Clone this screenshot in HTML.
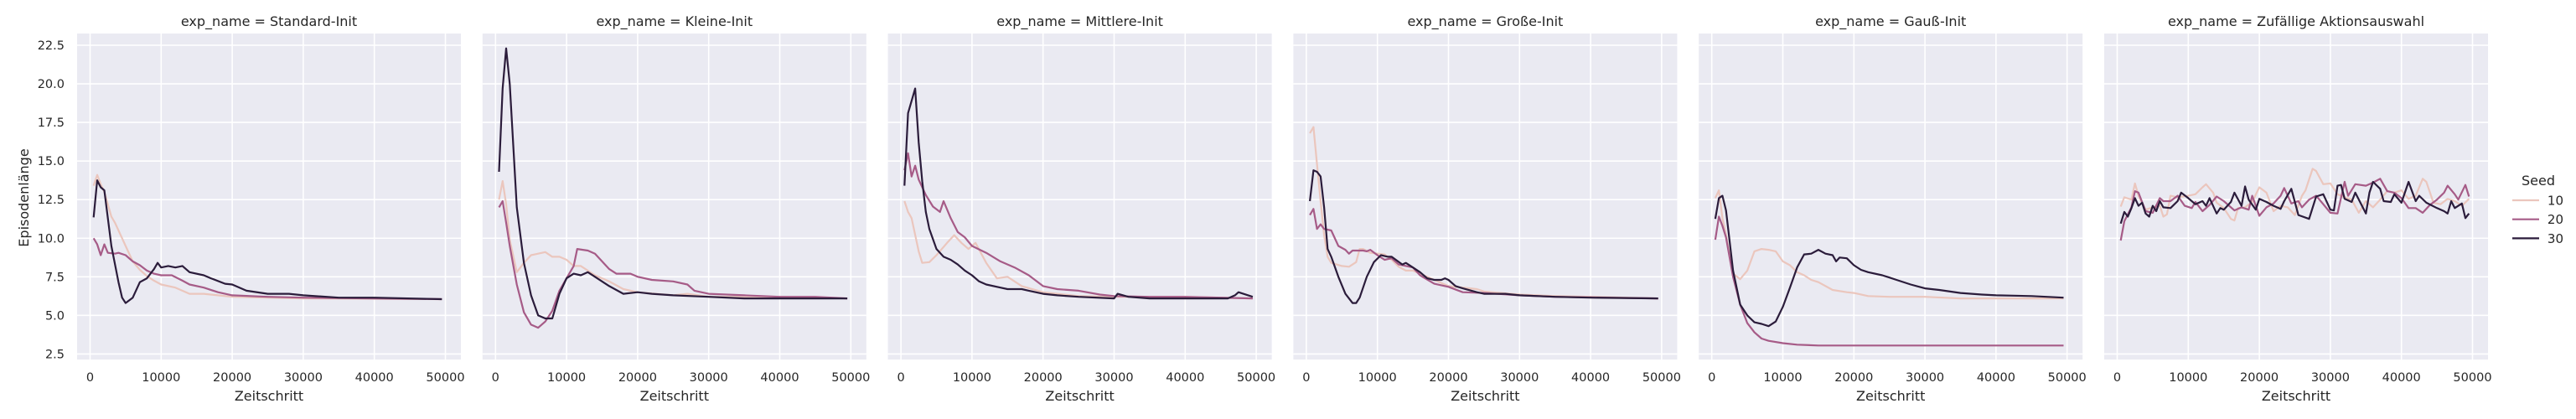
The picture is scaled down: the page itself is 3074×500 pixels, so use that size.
<!DOCTYPE html>
<html><head><meta charset="utf-8"><style>
html,body{margin:0;padding:0;background:#fff;}
svg{display:block;font-family:"DejaVu Sans","Liberation Sans",sans-serif;}
</style></head><body>
<svg id="chart" width="3074" height="500" viewBox="0 0 3074 500"></svg>
<script>
const panelTitles = ["exp_name = Standard-Init","exp_name = Kleine-Init","exp_name = Mittlere-Init","exp_name = Große-Init","exp_name = Gauß-Init","exp_name = Zufällige Aktionsauswahl"];
const seeds = ["10","20","30"];
const xTicks = [0,10000,20000,30000,40000,50000];
const yTicks = [2.5,5.0,7.5,10.0,12.5,15.0,17.5,20.0,22.5];
// Each series: [x values], [y values]
const p1s10x=[500,1000,1500,2000,3000,3500,4500,5000,6000,7000,8000,9000,10000,12000,14000,16000,18000,20000,25000,30000,49500];
const p1s10y=[13.4,14.1,13.5,13,11.4,11,10,9.5,8.5,7.95,7.55,7.25,7,6.8,6.4,6.4,6.3,6.2,6.15,6.1,6.05];
const p1s20x=[500,1000,1500,2000,2500,3500,4000,5000,6000,7000,8000,9000,10000,11500,13000,14000,16000,18000,20000,25000,30000,40000,49500];
const p1s20y=[10,9.6,8.9,9.6,9.05,9,9.05,8.9,8.5,8.25,7.9,7.7,7.6,7.6,7.25,7,6.8,6.5,6.3,6.2,6.15,6.1,6.05];
const p1s30x=[500,1000,1500,2000,3000,4000,4500,5000,6000,7000,8000,9000,9500,10000,11000,12000,13000,14000,16000,17000,19000,20000,22000,25000,28000,30000,35000,40000,49500];
const p1s30y=[11.35,13.75,13.3,13.1,9.5,7.15,6.15,5.8,6.15,7.15,7.4,8,8.4,8.1,8.2,8.1,8.2,7.8,7.6,7.4,7.05,7,6.6,6.4,6.4,6.3,6.15,6.15,6.05];
const p2s10x=[500,1000,1500,2000,3000,4000,5000,6000,7000,8000,9000,10000,11000,12000,14000,16000,18000,20000,25000,27000,30000,40000,49500];
const p2s10y=[12.5,13.7,12.2,9.9,7.8,8.4,8.9,9,9.1,8.8,8.8,8.6,8.2,8.2,7.6,7.2,6.7,6.5,6.3,6.4,6.2,6.2,6.1];
const p2s20x=[500,1000,1500,2000,3000,4000,5000,6000,7000,8000,9000,10000,11000,11500,13000,14000,16000,17000,19000,20000,22000,25000,27000,28000,30000,35000,40000,45000,49500];
const p2s20y=[12,12.4,11,9.5,7,5.2,4.4,4.2,4.6,5.3,6.6,7.4,8.2,9.3,9.2,9,8,7.7,7.7,7.5,7.3,7.2,7,6.6,6.4,6.3,6.2,6.2,6.1];
const p2s30x=[500,1000,1500,2000,2500,3000,4000,5000,6000,7000,8000,9000,10000,11000,12000,13000,14000,16000,18000,20000,22000,25000,30000,35000,40000,45000,49500];
const p2s30y=[14.3,19.7,22.3,20,16,12,8.4,6.3,5,4.8,4.8,6.4,7.4,7.7,7.6,7.8,7.5,6.9,6.4,6.5,6.4,6.3,6.2,6.1,6.1,6.1,6.1];
const p3s10x=[500,1000,1500,2500,3000,4000,5000,6500,7500,8500,9500,10500,12000,13500,15000,17000,20000,25000,30000,40000,49500];
const p3s10y=[12.4,11.7,11.3,9.15,8.4,8.45,8.9,9.7,10.2,9.7,9.3,9.7,8.4,7.4,7.5,6.9,6.5,6.25,6.2,6.2,6.1];
const p3s20x=[500,1000,1500,2000,2500,3500,4500,5500,6000,7000,8000,9000,10000,12000,14000,16000,18000,20000,22000,25000,28000,30000,35000,40000,49500];
const p3s20y=[14.4,15.5,14,14.7,13.8,12.8,12.05,11.7,12.4,11.3,10.4,10.05,9.5,9.05,8.5,8.1,7.6,6.9,6.7,6.6,6.35,6.25,6.2,6.2,6.1];
const p3s30x=[500,1000,2000,2500,3000,3500,4000,5000,6000,7000,8000,9000,10000,11000,12000,14000,15000,17000,18000,20000,22000,25000,30000,30500,32000,35000,40000,46000,47000,47500,49500];
const p3s30y=[13.4,18.1,19.7,16.2,13.7,11.7,10.6,9.3,8.8,8.6,8.3,7.9,7.6,7.2,7,6.8,6.7,6.7,6.6,6.4,6.3,6.2,6.1,6.4,6.2,6.1,6.1,6.1,6.3,6.5,6.2];
const p4s10x=[500,1000,1500,2000,2500,3000,3500,5000,6000,7000,7500,8000,9000,11000,12000,13000,14000,15000,16000,18000,20000,24000,25000,30000,35000,40000,49500];
const p4s10y=[16.8,17.2,14.8,12.4,10.2,8.8,8.4,8.2,8.15,8.45,9.3,9.3,9.05,8.95,8.6,8.15,7.9,7.9,7.7,7.3,6.9,6.7,6.55,6.35,6.25,6.2,6.1];
const p4s20x=[500,1000,1500,2000,2500,3500,4500,5500,6000,6500,8000,8500,9000,10000,11000,12000,13000,15000,16000,18000,20000,22000,25000,30000,35000,49500];
const p4s20y=[11.5,11.9,10.6,10.9,10.6,10.5,9.5,9.25,9,9.2,9.2,9.15,9.25,8.9,8.6,8.7,8.3,8.1,7.6,7.05,6.85,6.5,6.45,6.3,6.2,6.1];
const p4s30x=[500,1000,1500,2000,2500,3000,3500,4500,5500,6500,7000,7500,8500,9500,10500,11500,12000,13500,14000,15000,16000,17000,18000,19000,19500,20000,21000,22000,24000,25000,28000,30000,35000,40000,49500];
const p4s30y=[12.4,14.4,14.3,14,12,9.3,8.8,7.5,6.4,5.8,5.8,6.15,7.5,8.45,8.9,8.8,8.8,8.3,8.4,8.1,7.8,7.4,7.3,7.3,7.4,7.3,6.9,6.75,6.5,6.4,6.4,6.3,6.2,6.15,6.1];
const p5s10x=[500,1000,1500,2000,3000,4000,5000,6000,7000,8000,9000,10000,11000,12000,13000,14000,15000,17000,19000,20000,22000,25000,28000,30000,35000,49500];
const p5s10y=[12.6,13.1,11.3,10.2,7.7,7.35,7.9,9.15,9.3,9.25,9.15,8.5,8.25,7.8,7.6,7.3,7.15,6.65,6.5,6.45,6.25,6.2,6.2,6.2,6.1,6.1];
const p5s20x=[500,1000,1500,2000,3000,4000,5000,6000,7000,8000,10000,12000,15000,49500];
const p5s20y=[9.9,11.4,10.8,10.05,7.5,5.7,4.5,3.9,3.5,3.35,3.2,3.1,3.05,3.05];
const p5s30x=[500,1000,1500,2000,3000,4000,5000,6000,7000,8000,9000,10000,11000,12000,13000,14000,15000,16000,17000,17500,18000,19000,20000,21000,22000,24000,25000,26000,28000,30000,32000,35000,38000,40000,45000,49500];
const p5s30y=[11.25,12.6,12.75,11.8,7.9,5.7,5,4.55,4.45,4.3,4.6,5.55,6.8,8.1,8.95,9,9.25,9,8.9,8.5,8.75,8.7,8.25,7.95,7.8,7.6,7.45,7.3,7,6.75,6.65,6.45,6.35,6.3,6.25,6.15];
const p6s10x=[500,1000,2000,2500,3000,4000,5000,6000,6500,7000,7500,8500,10000,11000,12000,12500,13500,14000,15000,16000,16500,17000,18000,19000,20000,21000,22000,23000,24000,25000,26000,26500,27500,28000,29000,30000,31000,32000,33000,34000,35000,36000,37000,38000,39000,40000,41000,42000,43000,43500,44500,45500,46500,47500,48500,49500];
const p6s10y=[12.05,12.65,12.5,13.55,12.75,11.85,12,12.1,11.4,11.55,12.75,12.65,12.75,12.85,13.3,13.5,12.95,12.3,11.95,11.25,11.15,11.95,12,12.35,13.3,12.95,11.75,12.1,12,11.5,12.75,13.1,14.5,14.35,13.5,13.55,12.85,12.65,12.5,11.65,12.4,12,12.5,13.05,12.95,13.1,12.55,12.75,13.85,13.65,12.3,12.2,12.55,12.4,12.1,12.55];
const p6s20x=[500,1000,2000,2500,3000,4000,5000,6000,6500,7500,8500,9500,10500,11000,12000,13000,14000,15000,16500,17500,18500,19000,20000,21000,22000,23000,23500,24500,25500,26000,27000,28000,29000,30000,31000,32000,32500,33500,35000,36000,37000,38000,39000,40000,41000,42000,43000,44000,45000,46000,46500,47500,48000,49000,49500];
const p6s20y=[9.85,11.1,12,13.05,12.95,11.75,11.65,12.6,12.4,12.4,12.75,12.1,11.95,12.35,11.75,12.15,12.7,12.4,11.8,12,11.85,12.75,11.45,12,12.25,12.75,13.25,12.25,12.4,12,12.5,12.75,12.2,11.65,11.6,13.65,12.75,13.5,13.4,13.6,13.85,13.05,12.95,12.6,11.95,11.95,11.65,12.15,12.5,12.95,13.4,12.85,12.5,13.45,12.7];
const p6s30x=[500,1000,1500,2000,2500,3000,3500,4000,4500,5000,5500,6000,6500,7500,8500,9000,10000,11000,12000,12500,13000,14000,14500,15000,16000,16500,17500,18000,18500,19500,20000,21000,22000,23000,23500,24500,25500,27000,28000,29000,30000,30500,31000,31500,32000,33000,33500,35000,35500,36000,37000,37500,38500,39000,40000,41000,42000,42500,43500,45000,46000,46500,47000,47500,48500,49000,49500];
const p6s30y=[10.95,11.7,11.4,11.95,12.6,12.1,12.3,11.6,11.4,12.1,11.75,12.4,12,11.95,12.4,12.95,12.6,12.2,12.4,12.1,12.6,11.6,11.95,11.85,12.35,12.95,12.1,13.35,12.5,11.85,12.55,12.35,12.1,11.9,12.4,13.2,11.5,11.25,12.7,12.85,11.85,11.8,13.4,13.45,12.55,12.35,12.95,11.6,12.95,13.65,13.2,12.4,12.35,12.85,12.3,13.65,12.4,12.75,12.3,11.95,11.75,11.6,12.4,11.95,12.25,11.3,11.6];

const series = [
 [[p1s10x,p1s10y],[p1s20x,p1s20y],[p1s30x,p1s30y]],
 [[p2s10x,p2s10y],[p2s20x,p2s20y],[p2s30x,p2s30y]],
 [[p3s10x,p3s10y],[p3s20x,p3s20y],[p3s30x,p3s30y]],
 [[p4s10x,p4s10y],[p4s20x,p4s20y],[p4s30x,p4s30y]],
 [[p5s10x,p5s10y],[p5s20x,p5s20y],[p5s30x,p5s30y]],
 [[p6s10x,p6s10y],[p6s20x,p6s20y],[p6s30x,p6s30y]]
];
const colors = ["#ebc6bd","#a65b87","#2b1c3b"];
const NS="http://www.w3.org/2000/svg";
const svg=document.getElementById('chart');
function mk(tag,attrs,parent){const e=document.createElementNS(NS,tag);for(const k in attrs)e.setAttribute(k,attrs[k]);(parent||svg).appendChild(e);return e;}
const PW=458, TOP=40, BOT=429, STEP=483.8;
function yPix(v){return 54+(22.5-v)*18.42;}
panelTitles.forEach((title,i)=>{
  const L=92+i*STEP;
  const xPix=x=>L+15.5+x*0.00848;
  const g=mk('g',{});
  
  
  const bg=mk('rect',{x:L,y:TOP,width:PW,height:BOT-TOP,fill:'#eaeaf2'},g);
  
  
  yTicks.forEach(t=>{
    const y=yPix(t);
    const gl=mk('line',{x1:L,x2:L+PW,y1:y,y2:y,stroke:'#fff','stroke-width':1.6},g);
    
    
    if(i===0){
      const tl=mk('text',{x:77,y:y+5,'text-anchor':'end','font-size':14.5,fill:'#262626'},g);
      tl.textContent=t.toFixed(1);
      
      
    }
  });
  xTicks.forEach(t=>{
    const x=xPix(t);
    const gl=mk('line',{x1:x,x2:x,y1:TOP,y2:BOT,stroke:'#fff','stroke-width':1.6},g);
    
    
    const tl=mk('text',{x:x,y:455,'text-anchor':'middle','font-size':14.5,fill:'#262626'},g);
    tl.textContent=String(t);
    
    
  });
  series[i].forEach((s,j)=>{
    const pts=s[0].map((x,k)=>xPix(x).toFixed(1)+','+yPix(s[1][k]).toFixed(1)).join(' ');
    const pl=mk('polyline',{points:pts,fill:'none',stroke:colors[j],'stroke-width':2.2,'stroke-linejoin':'round'},g);
    
    
  });
  const tt=mk('text',{x:L+PW/2,y:31,'text-anchor':'middle','font-size':16,fill:'#262626'},g);
  tt.textContent=title;
  
  
  const xl=mk('text',{x:L+PW/2,y:478,'text-anchor':'middle','font-size':16,fill:'#262626'},g);
  xl.textContent='Zeitschritt';
  
  
});
const yl=mk('text',{x:0,y:0,'text-anchor':'middle','font-size':16,fill:'#262626',transform:'translate(34,236) rotate(-90)'});
yl.textContent='Episodenlänge';


const lg=mk('g',{});


const lt=mk('text',{x:3029,y:221,'text-anchor':'middle','font-size':16,fill:'#262626'},lg);
lt.textContent='Seed';


seeds.forEach((s,j)=>{
  const y=239+j*22.7;
  const ln=mk('line',{x1:2998,x2:3030,y1:y,y2:y,stroke:colors[j],'stroke-width':2.2},lg);
  
  
  const tx=mk('text',{x:3059,y:y+5.5,'text-anchor':'end','font-size':15,fill:'#262626'},lg);
  tx.textContent=s;
  
  
});
</script>
</body></html>
